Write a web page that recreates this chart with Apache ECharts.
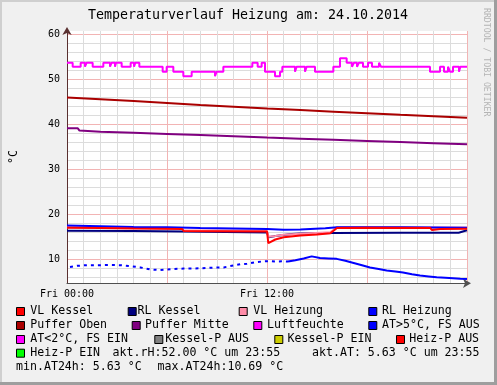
<!DOCTYPE html>
<html><head><meta charset="utf-8">
<script src="https://cdn.jsdelivr.net/npm/echarts@6/dist/echarts.min.js"></script>
<style>html,body{margin:0;padding:0;background:#f0f0f0}#c{width:497px;height:385px}</style>
</head><body><div id="c"></div>
<script>
// ---------- data ----------
const chartTitle = 'Temperaturverlauf Heizung am: 24.10.2014';
const yUnit = '°C';
const watermark = 'RRDTOOL / TOBI OETIKER';
const yMinorTicks = [6,8,10,12,14,16,18,20,22,24,26,28,30,32,34,36,38,40,42,44,46,48,50,52,54,56,58,60];
const yMajorTicks = [10,20,30,40,50,60];
const xTickLabels = {0:'Fri 00:00', 12:'Fri 12:00'};

// hours since midnight
const humHours = [0,0.34,0.82,1.08,1.18,1.54,2.18,2.58,2.68,2.88,2.94,3.28,3.82,4.02,4.10,4.34,5.74,5.98,6.38,6.98,7.48,8.88,8.98,9.38,11.12,11.44,11.68,11.88,12.48,12.78,12.92,13.68,13.78,14.28,14.38,14.88,15.98,16.38,16.78,17.1,17.22,17.4,17.52,17.76,18.06,18.3,18.72,18.84,21.78,22.38,22.62,22.86,22.98,23.16,23.52,23.6,24];
const luftfeuchte = [53.7,52.8,53.7,52.8,53.7,52.8,53.7,52.8,53.7,52.8,53.7,52.8,53.7,52.8,53.7,52.8,51.7,52.8,51.7,50.7,51.7,50.7,51.7,52.8,53.7,52.8,53.7,51.7,50.7,51.7,52.8,51.7,52.8,51.7,52.8,51.7,52.8,54.7,53.7,52.8,53.7,52.8,53.7,52.8,53.7,52.8,53.7,52.8,51.7,52.8,51.7,52.8,51.7,52.8,51.7,52.8,52.8];

const pufferObenHours = [0,2,4,6,8,10,12,14,16,18,20,22,24];
const pufferOben = [45.95,45.55,45.15,44.75,44.3,43.9,43.5,43.15,42.8,42.45,42.1,41.8,41.45];

const pufferMitteHours = [0,0.65,0.75,2,4,6,8,10,12,14,16,18,20,22,24];
const pufferMitte = [39.1,39.1,38.6,38.35,38.1,37.85,37.6,37.35,37.05,36.8,36.55,36.3,36.05,35.8,35.55];

const vlKesselHours = [0,2,4,6.9,7.0,9,12.0,12.08,12.5,13,14,15,15.8,16.2,18,21.8,21.9,22.4,24];
const vlKessel = [17.0,16.95,16.85,16.75,16.3,16.25,16.2,13.6,14.4,14.9,15.3,15.5,15.8,16.95,17.0,16.95,16.5,16.75,16.8];

const vlHeizungHours = [0,4,6.9,7.0,12.0,12.08,12.5,13,14,15.8,16.2,24];
const vlHeizung = [17.15,17.0,16.9,16.45,16.35,15.0,15.2,15.45,15.7,16.0,17.1,17.05];

const rlHeizungHours = [0,2,4,6,8,10,12,12.1,13,14,15.5,16.2,18,20,22,24];
const rlHeizung = [17.5,17.35,17.2,17.1,16.95,16.85,16.75,16.55,16.55,16.65,16.9,17.1,17.15,17.1,17.05,17.0];

const rlKesselHours = [0,4,7,7.05,12,12.1,12.5,13.5,14,16,20,23.5,24];
const rlKessel = [16.35,16.3,16.2,16.0,15.95,14.9,15.2,15.6,15.75,15.85,15.9,15.9,16.45];

// outside temperature: sparse samples (dotted) then continuous
const atSparseHours = [0.18,0.6,1.2,2,2.6,3.2,3.8,4.4,5.0,5.6,6.2,7,8,8.8,9.4,9.8,10.4,10.8,11.3,11.8,12.1,12.5,12.9,13.26];
const atSparse = [8.3,8.55,8.7,8.7,8.75,8.7,8.5,8.2,7.75,7.6,7.8,7.95,8.0,8.15,8.2,8.5,8.9,9.0,9.35,9.55,9.6,9.5,9.55,9.5];
const atHours = [13.26,13.7,14.2,14.68,15.18,15.7,16.18,16.7,17.2,17.7,18.18,18.7,19.18,19.7,20.16,20.7,21.18,21.7,22.18,22.7,23.16,23.6,24];
const atValues = [9.5,9.8,10.2,10.65,10.3,10.2,10.1,9.7,9.2,8.7,8.2,7.85,7.5,7.3,7.05,6.7,6.4,6.2,6.0,5.9,5.8,5.7,5.63];

const legendNames = ['VL Kessel','RL Kessel','VL Heizung','RL Heizung','Puffer Oben','Puffer Mitte','Luftfeuchte','AT>5°C, FS AUS','AT<2°C, FS EIN','Kessel-P AUS','Kessel-P EIN','Heiz-P AUS','Heiz-P EIN'];
const legendColors = ['#ff0000','#000080','#ff8ca8','#0000ff','#aa0000','#800080','#ff00ff','#0000ff','#ff00ff','#808080','#cccc00','#ff0000','#00ff00'];
const infoTexts = ['akt.rH:52.00 °C um 23:55','akt.AT: 5.63 °C um 23:55','min.AT24h: 5.63 °C','max.AT24h:10.69 °C'];

// ---------- layout (style only) ----------
const rowY = [311,325,339,352.7,366.7];
const legendBoxX = [16,127.7,238.7,368.3, 16,131.7,253.3,368.3, 16,154.3,274.3,396, 16];
const legendTextX = [30.3,137.6,253.3,382, 30.3,145,267,382, 30.3,165.3,287.6,409.3, 30.3];
const legendRow = [0,0,0,0, 1,1,1,1, 2,2,2,2, 3];
const infoX = [112.6,312,16,157.6];
const infoRow = [3,3,4,4];
const MONO = '"DejaVu Sans Mono", monospace';

const pairs = (hs, vs) => hs.map((h, i) => [h, vs[i]]);

function lineSeries(name, hs, vs, color, width, extra) {
  return Object.assign({
    name, type: 'line', data: pairs(hs, vs), showSymbol: false, symbol: 'none',
    lineStyle: {color, width}, itemStyle: {color}, animation: false, silent: true
  }, extra || {});
}

const graphics = [];
// border shading
graphics.push({type:'rect', shape:{x:0,y:0,width:497,height:2}, style:{fill:'#cfcfcf'}, z:100});
graphics.push({type:'rect', shape:{x:0,y:0,width:2,height:385}, style:{fill:'#cfcfcf'}, z:100});
graphics.push({type:'rect', shape:{x:0,y:382,width:497,height:3}, style:{fill:'#9e9e9e'}, z:100});
graphics.push({type:'rect', shape:{x:494,y:0,width:3,height:385}, style:{fill:'#9e9e9e'}, z:100});
// title
graphics.push({type:'text', x:248, y:16, style:{text: chartTitle, font:'13.3px ' + MONO, fill:'#000', textAlign:'center', textVerticalAlign:'middle'}});
// watermark
graphics.push({type:'text', x:486, y:8, rotation:-Math.PI/2, style:{text: watermark, font:'8.2px ' + MONO, fill:'#b4b4b4', textAlign:'left', textVerticalAlign:'middle'}});
// y unit
graphics.push({type:'text', x:14, y:157, rotation:Math.PI/2, style:{text: yUnit, font:'11.6px ' + MONO, fill:'#000', textAlign:'center', textVerticalAlign:'middle'}});
// legend
legendNames.forEach((n, i) => {
  const cy = rowY[legendRow[i]];
  graphics.push({type:'rect', shape:{x:legendBoxX[i]+0.5, y:cy-4+0.5, width:8, height:8}, style:{fill:legendColors[i], stroke:'#000', lineWidth:1}});
  graphics.push({type:'text', x:legendTextX[i], y:cy, style:{text:n, font:'11.6px ' + MONO, fill:'#000', textAlign:'left', textVerticalAlign:'middle'}});
});
infoTexts.forEach((t, i) => {
  graphics.push({type:'text', x:infoX[i], y:rowY[infoRow[i]], style:{text:t, font:'11.6px ' + MONO, fill:'#000', textAlign:'left', textVerticalAlign:'middle'}});
});

const chart = echarts.init(document.getElementById('c'), null, {renderer:'canvas'});
chart.setOption({
  backgroundColor: '#f0f0f0',
  animation: false,
  grid: {left:67, top:31, width:400, height:252.3, show:true, backgroundColor:'#ffffff', borderWidth:0},
  xAxis: [
    {type:'value', min:0, max:24, interval:1, position:'bottom',
     axisLine:{show:true, onZero:false, lineStyle:{color:'#505050', width:1}, symbol:['none','arrow'], symbolSize:[7,8], symbolOffset:[0,4]},
     axisTick:{show:false}, axisLabel:{show:false},
     splitLine:{show:true, lineStyle:{color:'#dcdcdc', width:1}}},
    {type:'value', min:0, max:24, interval:6, position:'bottom',
     axisLine:{show:false}, axisTick:{show:false},
     axisLabel:{show:true, margin:6, fontFamily:MONO, fontSize:10, color:'#000', formatter: v => xTickLabels[v] || ''},
     splitLine:{show:true, lineStyle:{color:'#f2b4b4', width:1}}}
  ],
  yAxis: [
    {type:'value', min:4.67, max:60.73, position:'left',
     axisLine:{show:true, onZero:false, lineStyle:{color:'#5a3030', width:1}, symbol:['none','arrow'], symbolSize:[7,8], symbolOffset:[0,4]},
     axisTick:{show:false, customValues:yMinorTicks}, axisLabel:{show:false},
     splitLine:{show:true, lineStyle:{color:'#dcdcdc', width:1}}},
    {type:'value', min:4.67, max:60.73, position:'left',
     axisLine:{show:false}, axisTick:{show:false, customValues:yMajorTicks},
     axisLabel:{show:true, customValues:yMajorTicks, margin:7, fontFamily:MONO, fontSize:10, color:'#000'},
     splitLine:{show:true, lineStyle:{color:'#f2b4b4', width:1}}}
  ],
  series: [
    lineSeries('RL Kessel', rlKesselHours, rlKessel, '#000080', 2),
    lineSeries('VL Heizung', vlHeizungHours, vlHeizung, '#ff8ca8', 2),
    lineSeries('RL Heizung', rlHeizungHours, rlHeizung, '#0000ff', 2),
    lineSeries('VL Kessel', vlKesselHours, vlKessel, '#ff0000', 2),
    lineSeries('Puffer Oben', pufferObenHours, pufferOben, '#aa0000', 2),
    lineSeries('Puffer Mitte', pufferMitteHours, pufferMitte, '#800080', 2),
    lineSeries('Luftfeuchte', humHours, luftfeuchte, '#ff00ff', 2, {step:'end'}),
    lineSeries('AT sparse', atSparseHours, atSparse, '#0000ff', 2, {lineStyle:{color:'#0000ff', width:2, type:[3,4]}}),
    lineSeries('AT', atHours, atValues, '#0000ff', 2)
  ],
  graphic: graphics
});
</script>
</body></html>
